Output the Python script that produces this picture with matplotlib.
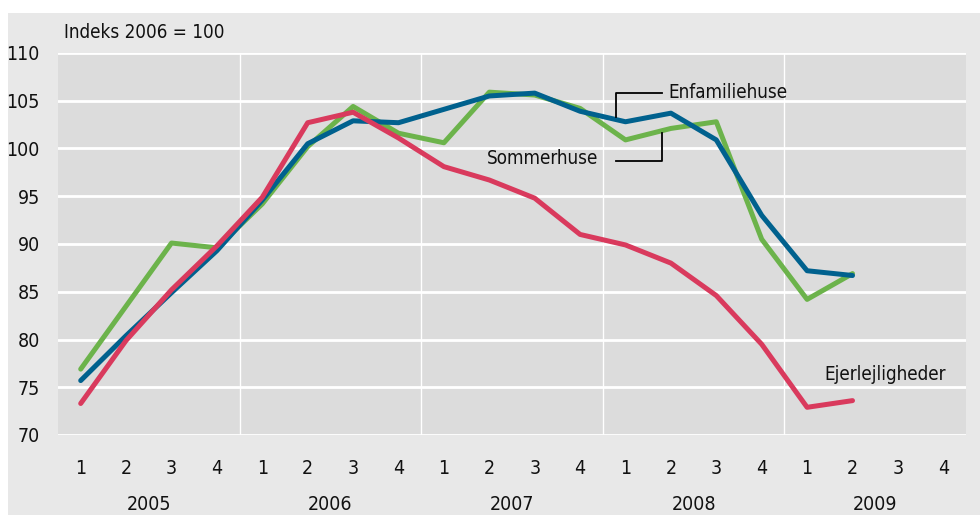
import numpy as np
import matplotlib.pyplot as plt
from matplotlib.patches import Rectangle

plt.rcParams['font.family'] = ['DejaVu Sans']
plt.rcParams['font.stretch'] = 'condensed'

# quarters 2005Q1 .. 2009Q4
quarters = ['1', '2', '3', '4'] * 5
years = ['2005', '2006', '2007', '2008', '2009']

enfamiliehuse = [75.7, 80.4, 84.9, 89.3, 94.6, 100.5, 102.9, 102.7, 104.1, 105.5,
                 105.8, 103.9, 102.8, 103.7, 100.9, 93.0, 87.2, 86.7]
sommerhuse = [76.9, 83.5, 90.1, 89.6, 94.2, 100.2, 104.4, 101.6, 100.6, 105.9,
              105.6, 104.2, 100.9, 102.1, 102.8, 90.5, 84.2, 86.9]
ejerlejligheder = [73.3, 79.9, 85.2, 89.8, 94.9, 102.7, 103.8, 101.1, 98.1, 96.7,
                   94.8, 91.0, 89.9, 88.0, 84.6, 79.5, 72.9, 73.6]

green = '#6cb34b'
blue = '#00618e'
red = '#d93a5d'
txt = '#111111'
fs = 13.5

fig = plt.figure(figsize=(9.8, 5.15), dpi=100)
fig.patch.set_facecolor('white')

# grey panel behind everything
bg = fig.add_axes([0, 0, 1, 1], zorder=-1)
bg.set_xlim(0, 980)
bg.set_ylim(515, 0)
bg.axis('off')
bg.add_patch(Rectangle((8, 13), 972, 502, facecolor='#e8e8e8', edgecolor='none'))

ax = fig.add_axes([58 / 980, 1 - 435 / 515, 908 / 980, 382 / 515])
ax.set_facecolor('#dcdcdc')

x = np.arange(len(enfamiliehuse))
ax.plot(x, sommerhuse, color=green, lw=3.6, solid_capstyle='round', zorder=3)
ax.plot(x, enfamiliehuse, color=blue, lw=3.6, solid_capstyle='round', zorder=4)
ax.plot(x, ejerlejligheder, color=red, lw=3.6, solid_capstyle='round', zorder=5)

ax.set_xlim(-0.5, 19.5)
ax.set_ylim(70, 110)
ax.set_yticks(np.arange(70, 111, 5))
for yv in np.arange(70, 111, 5):
    ax.axhline(yv, color='white', lw=2, zorder=1)
for xv in [3.5, 7.5, 11.5, 15.5]:
    ax.axvline(xv, color='white', lw=1, zorder=1)

for s in ax.spines.values():
    s.set_visible(False)
ax.tick_params(length=0, labelsize=14, colors=txt)
ax.tick_params(axis='y', pad=13)
ax.set_xticks(np.arange(20))
ax.set_xticklabels(quarters)
ax.tick_params(axis='x', pad=17)

for i, yr in enumerate(years):
    ax.text(4 * i + 1.5, -0.181, yr, transform=ax.get_xaxis_transform(),
            ha='center', va='center', fontsize=14, color=txt)

bg.text(64, 32, 'Indeks 2006 = 100', ha='left', va='center', fontsize=fs, color=txt)

# labels with leader lines
ax.text(12.95, 105.9, 'Enfamiliehuse', ha='left', va='center', fontsize=fs, color=txt)
ax.plot([11.8, 11.8, 12.8], [103.3, 105.84, 105.84], color='black', lw=1.3, zorder=6)
ax.text(11.39, 99.0, 'Sommerhuse', ha='right', va='center', fontsize=fs, color=txt)
ax.plot([11.8, 12.8, 12.8], [98.72, 98.72, 101.65], color='black', lw=1.3, zorder=6)
ax.text(16.37, 76.3, 'Ejerlejligheder', ha='left', va='center', fontsize=fs, color=txt)

fig.savefig('out.png', dpi=100)
